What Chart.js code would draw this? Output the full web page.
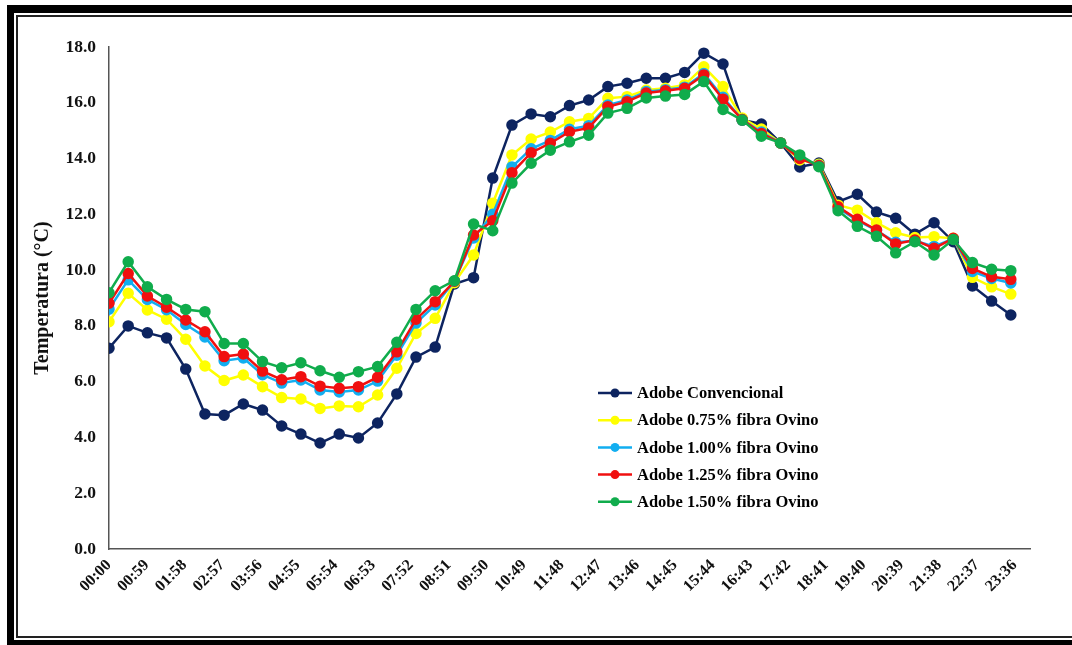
<!DOCTYPE html>
<html>
<head>
<meta charset="utf-8">
<script src="https://cdn.jsdelivr.net/npm/chart.js@4.4.1/dist/chart.umd.min.js"></script>
<style>
  html, body { margin: 0; padding: 0; background: #fff; overflow: hidden; }
  #wrap { position: relative; width: 1072px; height: 645px; }
  #wrap canvas { position: absolute; left: 0; top: 0; }
  .frameOuter {
    position: absolute; left: 7px; top: 5px; right: -30px; bottom: 0;
    border-top: 8px solid #000; border-left: 7px solid #000; border-bottom: 5px solid #000;
    pointer-events: none;
  }
  .frameInner {
    position: absolute; left: 16px; top: 15px; right: -30px; bottom: 7px;
    border: 2px solid #222;
    pointer-events: none;
  }
</style>
</head>
<body>
<div id="wrap">
  <canvas id="tempChart" width="1072" height="645"></canvas>
  <div class="frameOuter"></div>
  <div class="frameInner"></div>
</div>

<script>
/* ---- Data ---- */
const times = [
  "00:00","00:30","01:00","01:30","02:00","02:30","03:00","03:30",
  "04:00","04:30","05:00","05:30","06:00","06:30","07:00","07:30",
  "08:00","08:30","09:00","09:30","10:00","10:30","11:00","11:30",
  "12:00","12:30","13:00","13:30","14:00","14:30","15:00","15:30",
  "16:00","16:30","17:00","17:30","18:00","18:30","19:00","19:30",
  "20:00","20:30","21:00","21:30","22:00","22:30","23:00","23:30"
];

const tickLabels = [
  "00:00","00:59","01:58","02:57","03:56","04:55","05:54","06:53","07:52",
  "08:51","09:50","10:49","11:48","12:47","13:46","14:45","15:44","16:43",
  "17:42","18:41","19:40","20:39","21:38","22:37","23:36"
];

const yTicks = [0, 2, 4, 6, 8, 10, 12, 14, 16, 18];

const seriesNames = [
  "Adobe Convencional",
  "Adobe 0.75% fibra Ovino",
  "Adobe 1.00% fibra Ovino",
  "Adobe 1.25% fibra Ovino",
  "Adobe 1.50% fibra Ovino"
];

const convencional = [
  7.20, 8.00, 7.75, 7.57, 6.45, 4.84, 4.80, 5.20, 4.98, 4.41, 4.12, 3.80,
  4.12, 3.98, 4.52, 5.56, 6.88, 7.24, 9.50, 9.73, 13.30, 15.20, 15.60, 15.50,
  15.90, 16.10, 16.58, 16.70, 16.88, 16.88, 17.09, 17.78, 17.39, 15.38, 15.24, 14.56,
  13.70, 13.84, 12.45, 12.72, 12.08, 11.86, 11.29, 11.70, 11.02, 9.43, 8.89, 8.39
];

const fibra075 = [
  8.15, 9.17, 8.57, 8.24, 7.52, 6.56, 6.04, 6.24, 5.82, 5.43, 5.38, 5.04,
  5.13, 5.10, 5.52, 6.48, 7.73, 8.27, 9.55, 10.54, 12.40, 14.13, 14.70, 14.95,
  15.32, 15.44, 16.16, 16.22, 16.46, 16.52, 16.64, 17.29, 16.58, 15.45, 15.06, 14.56,
  13.95, 13.80, 12.33, 12.15, 11.70, 11.34, 11.17, 11.20, 11.14, 9.74, 9.40, 9.14
];

const fibra100 = [
  8.60, 9.65, 8.95, 8.58, 8.05, 7.60, 6.75, 6.85, 6.25, 5.95, 6.06, 5.70,
  5.63, 5.70, 6.02, 6.95, 8.10, 8.75, 9.60, 11.15, 12.00, 13.70, 14.35, 14.65,
  15.05, 15.18, 15.92, 16.10, 16.40, 16.47, 16.56, 17.05, 16.20, 15.40, 14.95, 14.56,
  14.02, 13.76, 12.22, 11.78, 11.42, 11.00, 11.05, 10.85, 11.12, 9.95, 9.70, 9.54
];

const fibra125 = [
  8.81, 9.88, 9.07, 8.67, 8.21, 7.79, 6.90, 6.99, 6.38, 6.07, 6.18, 5.84,
  5.76, 5.82, 6.16, 7.07, 8.24, 8.87, 9.60, 11.26, 11.77, 13.49, 14.21, 14.55,
  14.96, 15.10, 15.86, 16.04, 16.35, 16.43, 16.52, 17.00, 16.13, 15.40, 14.90, 14.56,
  14.00, 13.75, 12.27, 11.82, 11.44, 10.94, 11.08, 10.78, 11.14, 10.06, 9.76, 9.67
];

const fibra150 = [
  9.19, 10.30, 9.40, 8.95, 8.59, 8.51, 7.37, 7.37, 6.72, 6.50, 6.68, 6.39,
  6.16, 6.36, 6.54, 7.41, 8.59, 9.26, 9.62, 11.65, 11.41, 13.12, 13.83, 14.30,
  14.60, 14.84, 15.63, 15.80, 16.17, 16.24, 16.30, 16.76, 15.76, 15.38, 14.80, 14.56,
  14.13, 13.71, 12.13, 11.57, 11.21, 10.62, 11.02, 10.54, 11.10, 10.27, 10.03, 9.98
];

/* ---- Chart ---- */
(() => {
  const FONT = "'Liberation Serif', 'Times New Roman', serif";
  const colors = ["#0d2460", "#ffff00", "#12aef0", "#f01010", "#10ac4c"];
  const values = [convencional, fibra075, fibra100, fibra125, fibra150];

  const toMin = (t) => {
    const [h, m] = t.split(":").map(Number);
    return h * 60 + m;
  };
  const tickByMin = {};
  tickLabels.forEach(t => { tickByMin[toMin(t)] = t; });

  const datasets = seriesNames.map((name, i) => ({
    label: name,
    data: times.map((t, j) => ({ x: toMin(t), y: values[i][j] })),
    borderColor: colors[i],
    backgroundColor: colors[i],
    pointBackgroundColor: colors[i],
    pointBorderColor: colors[i],
    borderWidth: 2.5,
    pointRadius: 4.5,
    pointHoverRadius: 4.5,
    tension: 0,
    order: seriesNames.length - i   // later series on top, like the original
  }));

  // legend drawn inside the plot, lower middle
  const insideLegend = {
    id: "insideLegend",
    afterDraw(chart){
      const { ctx, chartArea } = chart;
      const x0 = chartArea.left + 489;
      const y0 = chartArea.top + 346;
      const step = 27.2;
      ctx.save();
      ctx.font = "bold 16.5px " + FONT;
      ctx.textBaseline = "middle";
      ctx.textAlign = "left";
      seriesNames.forEach((name, i) => {
        const y = y0 + i * step;
        ctx.strokeStyle = colors[i];
        ctx.lineWidth = 2.5;
        ctx.beginPath();
        ctx.moveTo(x0, y);
        ctx.lineTo(x0 + 34, y);
        ctx.stroke();
        ctx.fillStyle = colors[i];
        ctx.beginPath();
        ctx.arc(x0 + 17, y, 4.5, 0, Math.PI * 2);
        ctx.fill();
        ctx.fillStyle = "#000";
        ctx.fillText(name, x0 + 39, y + 1);
      });
      ctx.restore();
    }
  };

  new Chart(document.getElementById("tempChart"), {
    type: "line",
    data: { datasets },
    options: {
      responsive: false,
      animation: false,
      devicePixelRatio: 1,
      layout: { padding: { left: 0, top: 47, right: 42, bottom: 0 } },
      plugins: {
        legend: { display: false },
        tooltip: { enabled: false }
      },
      scales: {
        x: {
          type: "linear",
          min: 0,
          max: 1440,
          afterBuildTicks: (scale) => {
            scale.ticks = tickLabels.map(t => ({ value: toMin(t) }));
          },
          afterFit: (scale) => { scale.height = 96; },
          grid: { display: false, drawTicks: false },
          border: { display: true, color: "#555", width: 1.5 },
          ticks: {
            autoSkip: false,
            minRotation: 45,
            maxRotation: 45,
            padding: 7,
            color: "#111",
            font: { family: FONT, size: 16, weight: "bold" },
            callback: (v) => tickByMin[v] || ""
          }
        },
        y: {
          min: 0,
          max: 18,
          afterBuildTicks: (scale) => {
            scale.ticks = yTicks.map(v => ({ value: v }));
          },
          afterFit: (scale) => { scale.width = 109; },
          grid: { display: false, drawTicks: false },
          border: { display: true, color: "#555", width: 1.5 },
          title: {
            display: true,
            text: "Temperatura (°C)",
            color: "#111",
            padding: { top: 31, bottom: 0 },
            font: { family: FONT, size: 20, weight: "bold" }
          },
          ticks: {
            padding: 13,
            color: "#111",
            font: { family: FONT, size: 17.5, weight: "bold" },
            callback: (v) => Number(v).toFixed(1)
          }
        }
      }
    },
    plugins: [insideLegend]
  });
})();
</script>
</body>
</html>
